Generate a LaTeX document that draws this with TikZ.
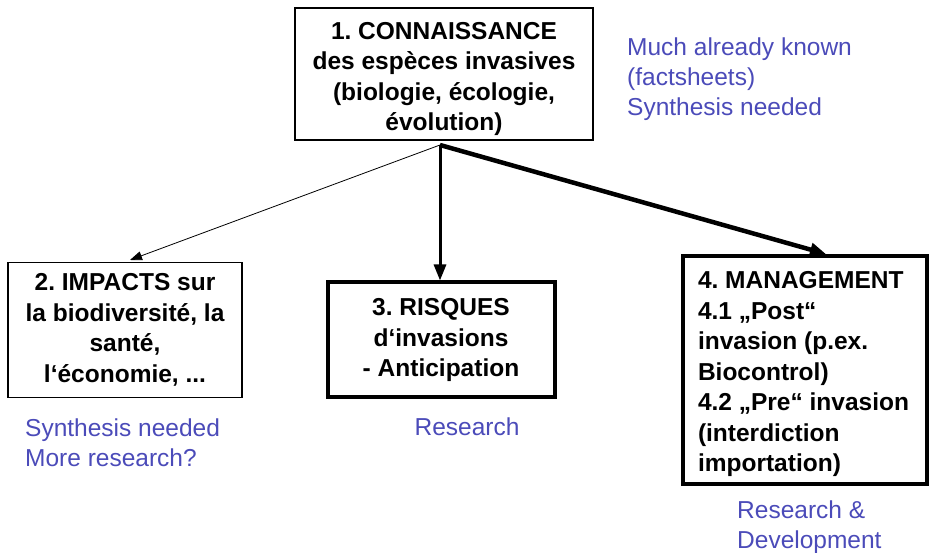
\documentclass[tikz,border=0pt]{standalone}
\usepackage{fontspec}
\setmainfont{Liberation Sans}
\usepackage{tikz}
\usetikzlibrary{arrows.meta}
\definecolor{notecol}{RGB}{75,75,185}
\frenchspacing

\tikzset{
  thinbox/.style = {draw,line width=1.2pt,font=\bfseries\fontsize{24.5}{30.5}\selectfont,inner sep=0pt},
  thickbox/.style = {draw,line width=4pt,font=\bfseries\fontsize{24.5}{30.5}\selectfont,inner sep=0pt},
  note/.style = {text=notecol,font=\fontsize{24.5}{30}\selectfont,inner sep=0pt,align=left}
}

\begin{document}
\begin{tikzpicture}[x=1pt,y=-1pt]
\useasboundingbox (0,0) rectangle (930,553);

\node[thinbox,minimum width=298,minimum height=132,align=center] (know) at (444,74)
  {\parbox{290pt}{\vspace*{10pt}\centering 1. CONNAISSANCE\\des espèces invasives\\(biologie, écologie,\\évolution)}};

\node[thinbox,minimum width=234,minimum height=135,align=center] (impact) at (125,330)
  {2. IMPACTS sur\\la biodiversité, la\\santé,\\l‘économie, ...};
\node[thickbox,minimum width=227,minimum height=115,align=center] (risk) at (441,340)
  {3. RISQUES\\d‘invasions\\- Anticipation};
\node[thickbox,minimum width=244,minimum height=228,align=left] (manage) at (805,370)
  {\parbox{214pt}{\vspace*{8pt}4. MANAGEMENT\\4.1 „Post“\\invasion (p.ex.\\Biocontrol)\\4.2 „Pre“ invasion\\(interdiction\\importation)}};

\coordinate (src) at (440,145);

\draw[-{Triangle[length=12pt,width=9pt]},line width=0.8pt] (src) to (130,260);
\draw[-{Triangle[length=16pt,width=12pt]},line width=3pt] (src) to (risk.north -| src);
\draw[-{Triangle[length=16pt,width=13pt]},line width=4.5pt] (src) to (826,254);

\node[note,anchor=north west] (n1) at (627,38) {Much already known\\(factsheets)\\Synthesis needed};
\node[note,anchor=north west] (n2) at (25,419) {Synthesis needed\\More research?};
\node[note] (n3) at (467,427) {Research};
\node[note,anchor=north west] (n4) at (737,501) {Research \&\\Development};
\end{tikzpicture}
\end{document}
